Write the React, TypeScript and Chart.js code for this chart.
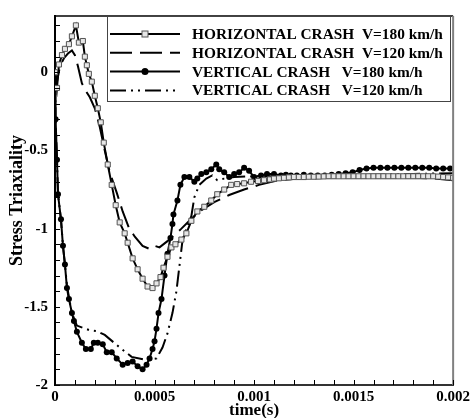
import React, { useEffect, useRef } from 'react';
import { Chart, registerables } from 'chart.js';

Chart.register(...registerables);

// ---- data (time in s, stress triaxiality) ----
const h180T = [0, 0.00001, 0.00002, 0.000035, 0.00005, 0.00007, 0.000085, 0.000105, 0.00012, 0.00014, 0.00015, 0.00016, 0.00017, 0.000185, 0.0002, 0.000215, 0.00023, 0.000245, 0.000265, 0.000285, 0.000305, 0.000325, 0.00035, 0.000365, 0.00039, 0.000415, 0.00044, 0.000465, 0.00049, 0.00051, 0.00053, 0.000545, 0.000565, 0.000585, 0.000605, 0.000635, 0.00066, 0.000685, 0.000715, 0.00075, 0.000785, 0.000815, 0.00085, 0.000885, 0.000915, 0.00095, 0.000985, 0.00102, 0.00105, 0.00108, 0.0011, 0.001125, 0.00115, 0.001175, 0.0012, 0.001225, 0.00125, 0.001275, 0.0013, 0.001325, 0.00135, 0.001375, 0.0014, 0.001425, 0.00145, 0.001475, 0.0015, 0.001525, 0.00155, 0.001575, 0.0016, 0.001625, 0.00165, 0.001675, 0.0017, 0.001725, 0.00175, 0.001775, 0.0018, 0.001825, 0.00185, 0.001875, 0.0019, 0.001925, 0.00195, 0.001975, 0.002];
const h180V = [0, -0.1, 0.05, 0.11, 0.15, 0.18, 0.23, 0.3, 0.19, 0.2, 0.1, 0.045, -0.01, -0.06, -0.15, -0.23, -0.32, -0.45, -0.59, -0.72, -0.85, -0.96, -1.03, -1.09, -1.19, -1.26, -1.32, -1.37, -1.38, -1.35, -1.31, -1.25, -1.18, -1.12, -1.1, -1.07, -1.03, -0.95, -0.89, -0.86, -0.82, -0.78, -0.75, -0.72, -0.715, -0.71, -0.7, -0.695, -0.69, -0.685, -0.68, -0.678, -0.675, -0.672, -0.67, -0.67, -0.67, -0.668, -0.668, -0.667, -0.666, -0.665, -0.665, -0.665, -0.665, -0.665, -0.665, -0.665, -0.665, -0.665, -0.665, -0.665, -0.665, -0.665, -0.665, -0.665, -0.665, -0.665, -0.665, -0.665, -0.665, -0.665, -0.665, -0.667, -0.67, -0.672, -0.675];

const h120T = [0, 0.00001, 0.000025, 0.000045, 0.000065, 0.000085, 0.0001, 0.000115, 0.000135, 0.000155, 0.000175, 0.0002, 0.000225, 0.00025, 0.000275, 0.00031, 0.00034, 0.00037, 0.0004, 0.00044, 0.000475, 0.0005, 0.000525, 0.000565, 0.0006, 0.000635, 0.000675, 0.000725, 0.0008, 0.000875, 0.00095, 0.001025, 0.001125, 0.001225, 0.0014, 0.0016, 0.0018, 0.0019, 0.002];
const h120V = [0, -0.06, 0.04, 0.09, 0.12, 0.14, 0.11, 0.04, -0.07, -0.12, -0.16, -0.23, -0.35, -0.5, -0.64, -0.77, -0.89, -0.99, -1.05, -1.11, -1.13, -1.11, -1.12, -1.08, -1.04, -1.0, -0.95, -0.89, -0.83, -0.785, -0.75, -0.72, -0.69, -0.68, -0.675, -0.675, -0.675, -0.678, -0.69];

const v180T = [0, 0.000003, 0.00001, 0.000015, 0.00003, 0.00004, 0.00005, 0.00006, 0.00007, 0.000085, 0.000095, 0.00011, 0.000135, 0.000155, 0.00018, 0.000195, 0.000215, 0.00024, 0.00026, 0.000285, 0.00031, 0.00034, 0.000365, 0.00039, 0.000415, 0.00044, 0.00046, 0.000475, 0.00049, 0.0005, 0.00051, 0.00052, 0.000535, 0.00055, 0.000565, 0.00058, 0.00059, 0.000595, 0.000615, 0.00063, 0.00065, 0.000675, 0.0007, 0.000715, 0.000735, 0.00076, 0.000785, 0.00081, 0.000825, 0.00085, 0.000875, 0.0009, 0.000925, 0.00095, 0.000975, 0.001, 0.001035, 0.001065, 0.0011, 0.001135, 0.00116, 0.001185, 0.001215, 0.00125, 0.001285, 0.00132, 0.001355, 0.00139, 0.001425, 0.00146, 0.001495, 0.00153, 0.001565, 0.0016, 0.001635, 0.00167, 0.001705, 0.00174, 0.001775, 0.00181, 0.001845, 0.00188, 0.001915, 0.00195, 0.001985];
const v180V = [0, -0.3, -0.56, -0.78, -0.94, -1.11, -1.23, -1.38, -1.45, -1.54, -1.59, -1.66, -1.73, -1.77, -1.77, -1.73, -1.73, -1.74, -1.79, -1.79, -1.83, -1.87, -1.86, -1.85, -1.88, -1.9, -1.87, -1.83, -1.77, -1.72, -1.64, -1.54, -1.45, -1.3, -1.16, -1.06, -0.97, -0.91, -0.82, -0.72, -0.67, -0.67, -0.7, -0.68, -0.65, -0.64, -0.62, -0.59, -0.62, -0.64, -0.67, -0.65, -0.64, -0.61, -0.63, -0.67, -0.66, -0.65, -0.65, -0.66, -0.655, -0.66, -0.66, -0.655, -0.66, -0.66, -0.66, -0.655, -0.65, -0.645, -0.64, -0.625, -0.615, -0.61, -0.61, -0.61, -0.61, -0.61, -0.61, -0.61, -0.61, -0.61, -0.615, -0.615, -0.615];

const v120T = [0, 0.000003, 0.00001, 0.000015, 0.00003, 0.00004, 0.00005, 0.00006, 0.00007, 0.000085, 0.00011, 0.000175, 0.00021, 0.00025, 0.000325, 0.000385, 0.00046, 0.00051, 0.00054, 0.000565, 0.00059, 0.00061, 0.000625, 0.00064, 0.00066, 0.000685, 0.0007, 0.000725, 0.00076, 0.00079, 0.000815, 0.00085, 0.0009, 0.001, 0.0012, 0.0014, 0.0016, 0.0018, 0.002];
const v120V = [0, -0.3, -0.56, -0.78, -0.94, -1.11, -1.23, -1.36, -1.44, -1.54, -1.62, -1.65, -1.655, -1.68, -1.76, -1.82, -1.84, -1.83, -1.76, -1.67, -1.54, -1.4, -1.24, -1.08, -1.0, -0.92, -0.8, -0.72, -0.68, -0.66, -0.69, -0.68, -0.67, -0.665, -0.665, -0.66, -0.655, -0.65, -0.645];

const seriesLabels = [
  'HORIZONTAL CRASH  V=180 km/h',
  'HORIZONTAL CRASH  V=120 km/h',
  'VERTICAL CRASH   V=180 km/h',
  'VERTICAL CRASH   V=120 km/h',
];

const xTickValues = [0, 0.0005, 0.001, 0.0015, 0.002];
const yTickValues = [-2, -1.5, -1, -0.5, 0];
const xMinorStep = 0.0001;
const yMinorStep = 0.1;
const xTitle = 'time(s)';
const yTitle = 'Stress Triaxiality';

const SERIF = '"Liberation Serif", "Times New Roman", serif';

const pairs = (t: number[], v: number[]) => t.map((x, i) => ({ x, y: v[i] }));

const decorPlugin = {
  id: 'decor',
  afterDraw(chart: any) {
    const { ctx, chartArea: a, scales } = chart;
    const xs = scales.x;
    const ys = scales.y;
    ctx.save();
    // frame (top and right)
    ctx.strokeStyle = '#000';
    ctx.lineWidth = 1.5;
    ctx.beginPath();
    ctx.moveTo(a.left, a.top);
    ctx.lineTo(a.right, a.top);
    ctx.stroke();
    ctx.strokeStyle = '#808080';
    ctx.lineWidth = 2;
    ctx.beginPath();
    ctx.moveTo(a.right, a.top);
    ctx.lineTo(a.right, a.bottom);
    ctx.stroke();

    // inward tick marks
    ctx.strokeStyle = '#000';
    ctx.lineWidth = 1;
    const xMin = xs.min, xMax = xs.max;
    for (let k = 0; xMin + k * xMinorStep <= xMax + 1e-12; k++) {
      const v = xMin + k * xMinorStep;
      const px = Math.round(xs.getPixelForValue(v)) + 0.5;
      ctx.beginPath();
      ctx.moveTo(px, a.bottom);
      ctx.lineTo(px, a.bottom - 5);
      ctx.stroke();
    }
    for (let k = 0; ys.min + k * yMinorStep <= ys.max + 1e-9; k++) {
      const v = ys.min + k * yMinorStep;
      const py = Math.round(ys.getPixelForValue(v)) + 0.5;
      ctx.beginPath();
      ctx.moveTo(a.left, py);
      ctx.lineTo(a.left + 5, py);
      ctx.stroke();
    }

    // axis titles
    ctx.fillStyle = '#000';
    ctx.textAlign = 'center';
    ctx.textBaseline = 'middle';
    ctx.font = `bold 17px ${SERIF}`;
    ctx.fillText(xTitle, (a.left + a.right) / 2, 411);
    ctx.save();
    ctx.font = `bold 18px ${SERIF}`;
    ctx.translate(17, (a.top + a.bottom) / 2);
    ctx.rotate(-Math.PI / 2);
    ctx.fillText(yTitle, 0, 0);
    ctx.restore();

    // legend box
    const bx = 107, by = 16, bw = 343, bh = 85;
    ctx.fillStyle = '#fff';
    ctx.fillRect(bx, by, bw, bh);
    ctx.strokeStyle = '#444';
    ctx.lineWidth = 1;
    ctx.strokeRect(bx + 0.5, by + 0.5, bw, bh);

    // legend font size chosen so the first label spans the box text width
    ctx.font = `bold 16px ${SERIF}`;
    const w0 = ctx.measureText(seriesLabels[0]).width;
    const fs = Math.min(16, (16 * 251) / w0);

    chart.data.datasets.forEach((ds: any, i: number) => {
      const ly = 34 + i * 18.8;
      ctx.save();
      ctx.strokeStyle = '#000';
      ctx.lineWidth = ds.borderWidth;
      ctx.setLineDash(ds.borderDash || []);
      ctx.beginPath();
      ctx.moveTo(110, ly);
      ctx.lineTo(180, ly);
      ctx.stroke();
      ctx.setLineDash([]);
      if (ds.pointRadius > 0) {
        ctx.fillStyle = ds.pointBackgroundColor;
        ctx.strokeStyle = ds.pointBorderColor;
        ctx.lineWidth = ds.pointBorderWidth;
        if (ds.pointStyle === 'rect') {
          ctx.fillRect(142, ly - 3, 6, 6);
          ctx.strokeRect(142, ly - 3, 6, 6);
        } else {
          ctx.beginPath();
          ctx.arc(145, ly, 3.5, 0, Math.PI * 2);
          ctx.fill();
        }
      }
      ctx.restore();
      ctx.save();
      ctx.fillStyle = '#000';
      ctx.font = `bold ${fs.toFixed(2)}px ${SERIF}`;
      ctx.textAlign = 'left';
      ctx.textBaseline = 'middle';
      ctx.fillText(ds.label, 192, ly + 1);
      ctx.restore();
    });
    ctx.restore();
  },
};

export default function App() {
  const ref = useRef<HTMLCanvasElement>(null);
  useEffect(() => {
    if (!ref.current) return;
    const chart = new Chart(ref.current, {
      type: 'scatter',
      data: {
        datasets: [
          {
            label: seriesLabels[0],
            data: pairs(h180T, h180V),
            showLine: true,
            borderColor: '#000',
            borderWidth: 2,
            pointStyle: 'rect',
            pointRadius: 3.6,
            pointBorderWidth: 1,
            pointBorderColor: '#555',
            pointBackgroundColor: '#e6e6e6',
          },
          {
            label: seriesLabels[1],
            data: pairs(h120T, h120V),
            showLine: true,
            borderColor: '#000',
            borderWidth: 2,
            borderDash: [22, 8],
            pointRadius: 0,
            pointBorderWidth: 0,
            pointBorderColor: '#000',
            pointBackgroundColor: '#000',
          },
          {
            label: seriesLabels[2],
            data: pairs(v180T, v180V),
            showLine: true,
            borderColor: '#000',
            borderWidth: 2,
            pointStyle: 'circle',
            pointRadius: 3,
            pointBorderWidth: 0,
            pointBorderColor: '#000',
            pointBackgroundColor: '#000',
          },
          {
            label: seriesLabels[3],
            data: pairs(v120T, v120V),
            showLine: true,
            borderColor: '#000',
            borderWidth: 2,
            borderDash: [16, 5, 2, 5, 2, 5],
            pointRadius: 0,
            pointBorderWidth: 0,
            pointBorderColor: '#000',
            pointBackgroundColor: '#000',
          },
        ],
      },
      options: {
        responsive: false,
        devicePixelRatio: 1,
        animation: false,
        layout: { padding: { left: 0, top: 12, right: 18, bottom: 0 } },
        elements: { line: { tension: 0 } },
        plugins: { legend: { display: false }, tooltip: { enabled: false } },
        scales: {
          x: {
            type: 'linear',
            min: 0,
            max: 0.002,
            afterBuildTicks: (s: any) => {
              s.ticks = xTickValues.map((value) => ({ value }));
            },
            afterFit: (s: any) => {
              s.height = 33;
            },
            grid: { display: false, drawTicks: false },
            border: { display: true, color: '#333', width: 2 },
            ticks: {
              autoSkip: false,
              maxRotation: 0,
              padding: 3,
              color: '#000',
              font: { family: SERIF, size: 15, weight: 'bold' },
              callback: (v: any) => String(v),
            },
          },
          y: {
            type: 'linear',
            min: -2,
            max: 0.36,
            afterBuildTicks: (s: any) => {
              s.ticks = yTickValues.map((value) => ({ value }));
            },
            afterFit: (s: any) => {
              s.width = 55;
            },
            grid: { display: false, drawTicks: false },
            border: { display: true, color: '#000', width: 2 },
            ticks: {
              autoSkip: false,
              padding: 7,
              color: '#000',
              font: { family: SERIF, size: 15, weight: 'bold' },
              callback: (v: any) => String(v),
            },
          },
        },
      },
      plugins: [decorPlugin],
    } as any);
    return () => chart.destroy();
  }, []);
  return (
    <div style={{ position: 'fixed', left: 0, top: 0, width: 473, height: 418, background: '#fff' }}>
      <canvas ref={ref} width={473} height={418} style={{ display: 'block', width: 473, height: 418 }} />
    </div>
  );
}
